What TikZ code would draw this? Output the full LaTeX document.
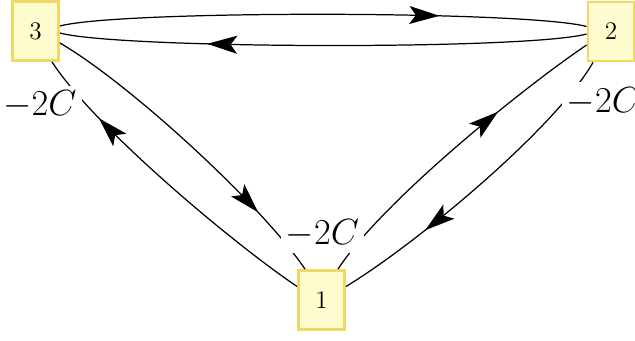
\documentclass[tikz,border=0pt]{standalone}
\usetikzlibrary{arrows.meta,decorations.markings}
\definecolor{statefill}{HTML}{FFFDCF}
\definecolor{stateline}{HTML}{F0D864}

\begin{document}
\begin{tikzpicture}[
  state/.style={draw=stateline, line width=1.6pt, fill=statefill, minimum width=0.92cm,
                minimum height=1.18cm, inner sep=0pt, font=\Large},
  rate/.style={fill=white, inner sep=3pt, font=\huge},
  edge/.style={line width=0.7pt, postaction={decorate, decoration={markings,
               mark=at position #1 with {\arrow{Stealth[length=6mm,width=3.6mm,inset=1.3mm]}}}}},
  edge/.default=0.72
]
\useasboundingbox (0,0) rectangle (12.7,-6.8);
% states
\node[state] (s3) at (0.71,-0.62) {3};
\node[state] (s2) at (12.22,-0.63) {2};
\node[state] (s1) at (6.43,-6.0) {1};

% top pair
\draw[edge] ([yshift=0.1cm]s3.east) to[out=15,in=165,looseness=0.3] ([yshift=0.1cm]s2.west);
\draw[edge] ([yshift=-0.05cm]s2.west) to[out=195,in=-15,looseness=0.3] ([yshift=-0.04cm]s3.east);
% left pair
\draw[edge=0.78] ([yshift=-0.24cm]s3.east) to[out=-30,in=124,looseness=0.6] ([xshift=-0.33cm]s1.north);
\draw[edge=0.78] ([yshift=0.27cm]s1.west) to[out=146,in=-57,looseness=0.6] ([xshift=0.33cm]s3.south);
% right pair
\draw[edge=0.67] ([xshift=0.33cm]s1.north) to[out=57,in=-146,looseness=0.6] ([yshift=-0.27cm]s2.west);
\draw[edge=0.71] ([xshift=-0.36cm]s2.south) to[out=-120,in=31,looseness=0.6] ([yshift=0.27cm]s1.east);

% rates, on top of the edges
\node[rate] (r3) at (0.8,-2.1) {$-2C$};
\node[rate] (r2) at (12.07,-2.03) {$-2C$};
\node[rate] (r1) at (6.45,-4.68) {$-2C$};
\end{tikzpicture}
\end{document}
